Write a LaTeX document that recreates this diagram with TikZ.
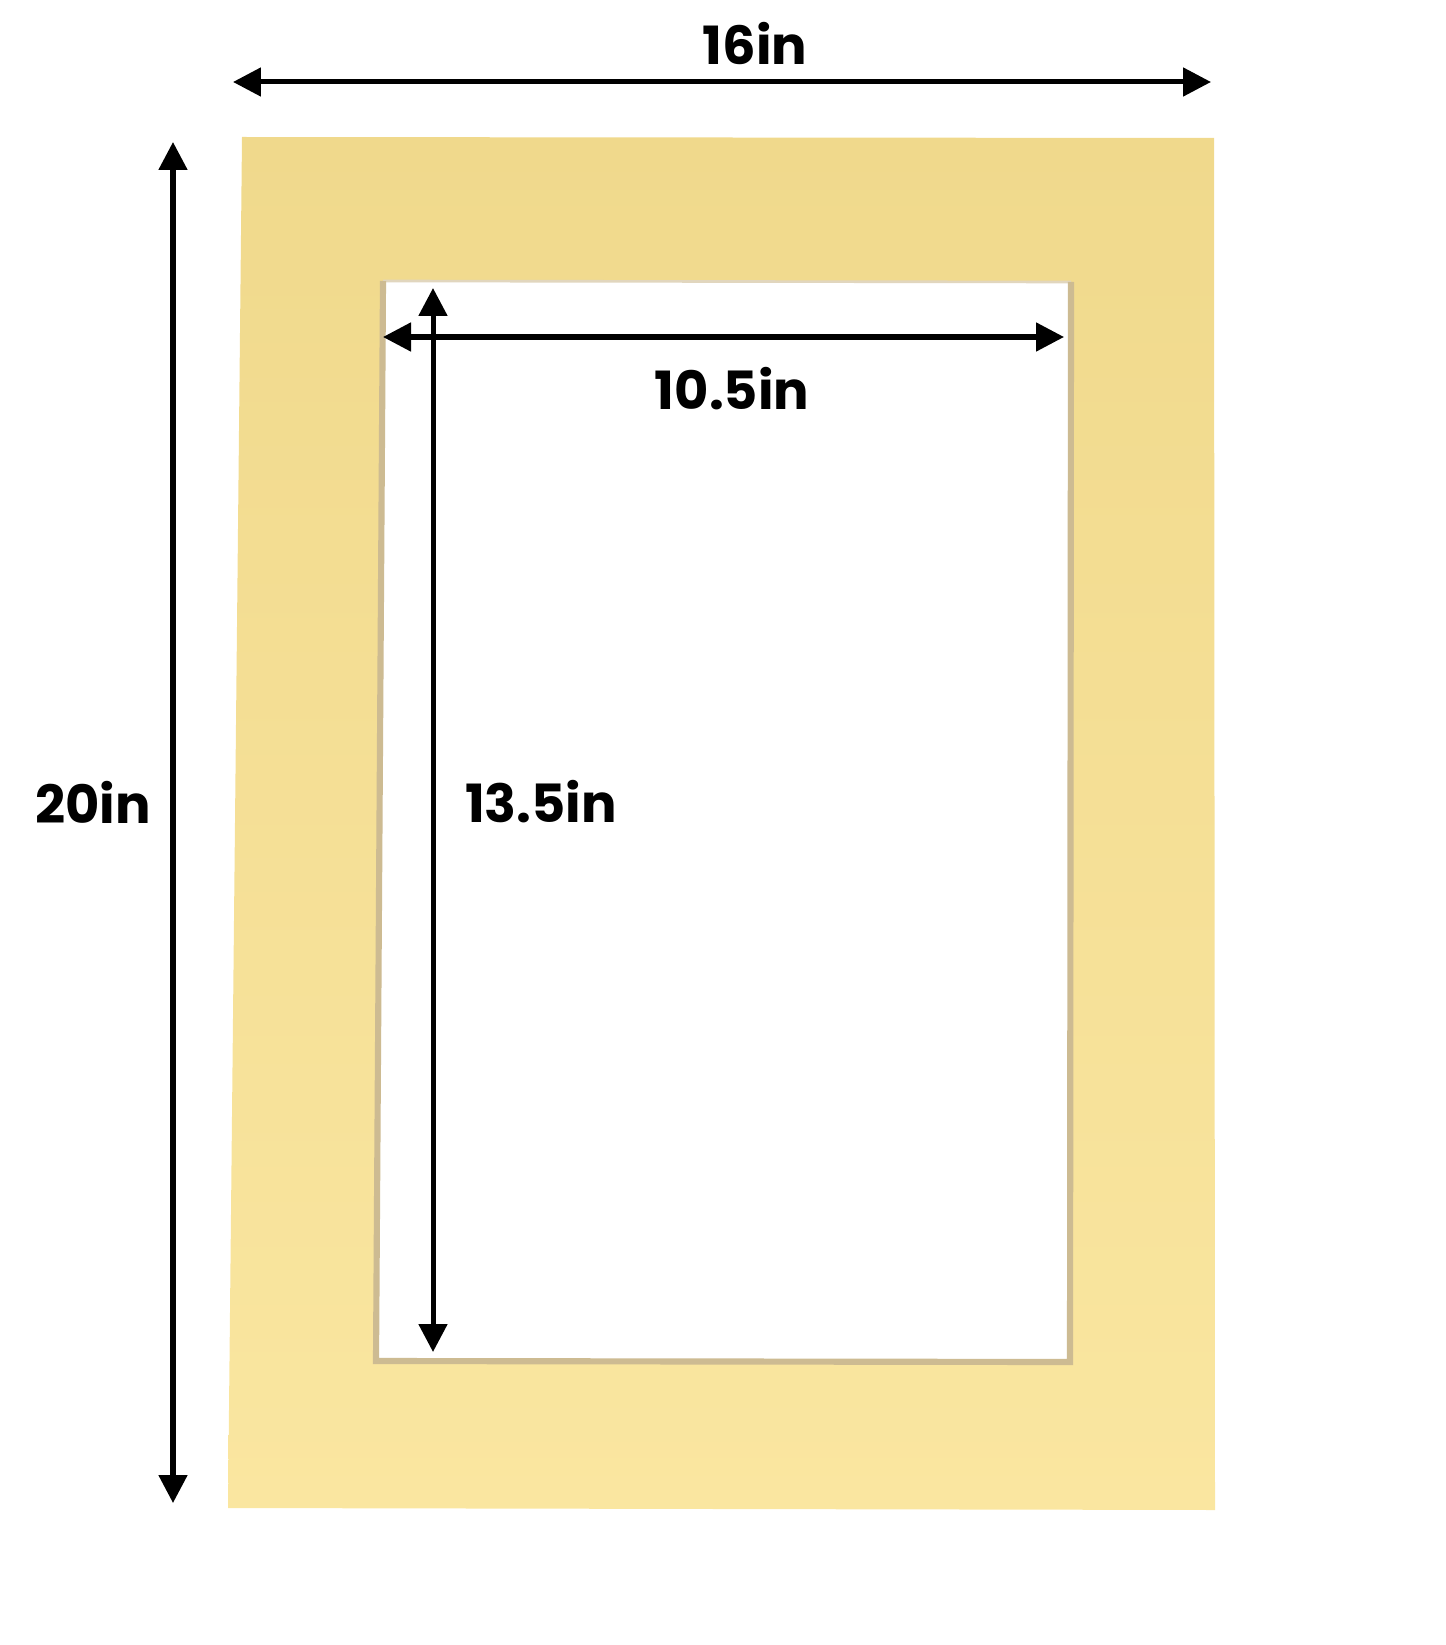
\documentclass[tikz,border=0pt]{standalone}
\usepackage{fontspec}
\setmainfont{Poppins}
\usetikzlibrary{arrows.meta}
\definecolor{matTop}{HTML}{F0D98C}
\definecolor{matBot}{HTML}{FAE6A0}
\definecolor{bevel}{HTML}{CDBB92}
\tikzset{
  dim/.style={line width=2.85pt,{Triangle[length=0.56cm,width=0.56cm]}-{Triangle[length=0.56cm,width=0.56cm]}},
  lbl/.style={font=\fontsize{30}{34}\selectfont\bfseries}
}
\begin{document}
\begin{tikzpicture}[x=0.02cm,y=-0.02cm]
  \useasboundingbox (0,0) rectangle (1445,1645);

  % mat board and its opening
  \shade[top color=matTop,bottom color=matBot] (242,137) -- (1214,138) -- (1215,1510) -- (228,1508) -- cycle;
  \fill[white] (383,281) -- (1071,282) -- (1070,1362) -- (376,1361) -- cycle;
  \draw[bevel!60,line width=1.5pt] (383,281) -- (1071,282);
  \draw[bevel,line width=3.5pt] (383,281) -- (376,1361) -- (1070,1362) -- (1071,282);

  \coordinate (wL) at (233,82);
  \coordinate (wR) at (1211,82);
  \coordinate (hT) at (173,142);
  \coordinate (hB) at (173,1503);
  \coordinate (iwL) at (383,337);
  \coordinate (iwR) at (1064,337);
  \coordinate (ihT) at (433,288);
  \coordinate (ihB) at (433,1352);

  \node (width) at (755,44) [lbl]{16in};
  \node (height) at (93,802) [lbl]{20in};
  \node (iwidth) at (732,389) [lbl]{10.5in};
  \node (iheight) at (541,802) [lbl]{13.5in};

  \draw[dim] (wL) -- (wR);
  \draw[dim] (hT) -- (hB);
  \draw[dim] (iwL) -- (iwR);
  \draw[dim] (ihT) -- (ihB);

\end{tikzpicture}
\end{document}
